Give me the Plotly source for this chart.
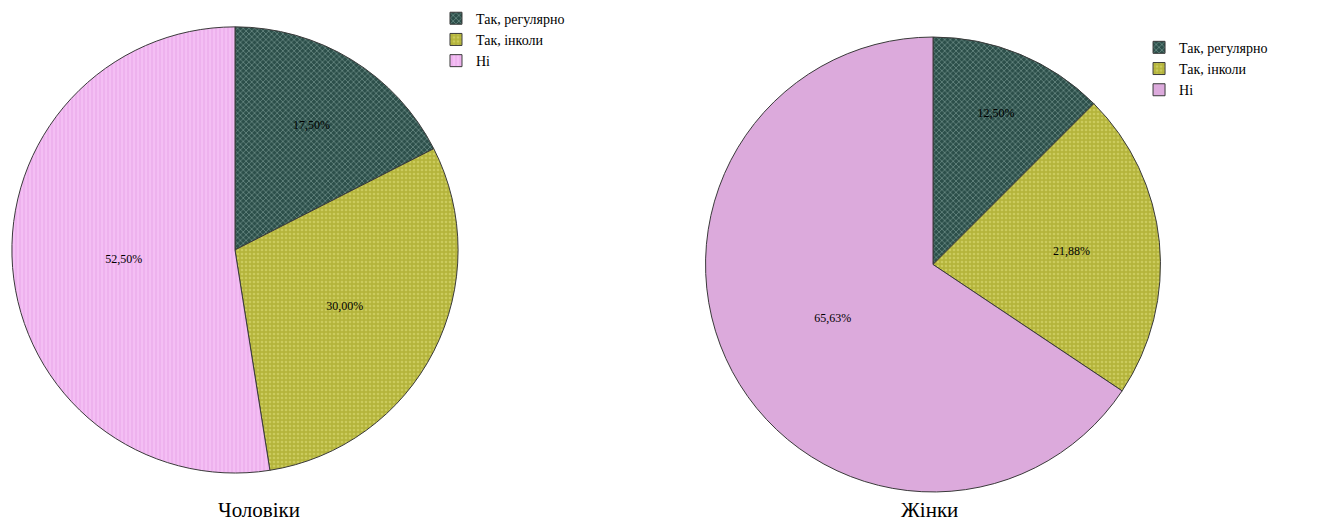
import plotly.graph_objects as go

categories = ["Так, регулярно", "Так, інколи", "Ні"]
men_values = [17.50, 30.00, 52.50]
women_values = [12.50, 21.88, 65.63]
titles = ["Чоловіки", "Жінки"]

def fmt(vals):
    return [f"{v:.2f}%".replace(".", ",") for v in vals]

FONT = "Liberation Serif, Times New Roman, serif"

fig = go.Figure()
fig.add_trace(go.Pie(
    labels=categories, values=men_values, text=fmt(men_values), textinfo="text",
    sort=False, direction="clockwise", rotation=0,
    domain=dict(x=[0.009, 0.3465], y=[0.100, 0.955]),
    marker=dict(
        colors=["#2c4f4a", "#b4b43c", "#eeb2ee"],
        line=dict(color="#3a3a3a", width=1),
        pattern=dict(shape=["x", ".", "|"], fillmode="overlay",
                     fgcolor=["#a9c9c1", "#e2e27e", "#ffd6ff"],
                     size=4, solidity=0.35),
    ),
    textposition="inside", insidetextorientation="horizontal",
    textfont=dict(family=FONT, size=12, color="black"),
    legend="legend", showlegend=True,
))
# trailing space keeps the second pie's legend entries distinct from the first
fig.add_trace(go.Pie(
    labels=[c + " " for c in categories], values=women_values,
    text=fmt(women_values), textinfo="text",
    sort=False, direction="clockwise", rotation=0,
    domain=dict(x=[0.5295, 0.882], y=[0.070, 0.930]),
    marker=dict(
        colors=["#2c4f4a", "#b4b43c", "#dcaadc"],
        line=dict(color="#3a3a3a", width=1),
        pattern=dict(shape=["x", ".", ""], fillmode="overlay",
                     fgcolor=["#a9c9c1", "#e2e27e", "#dcaadc"],
                     size=4, solidity=0.35),
    ),
    textposition="inside", insidetextorientation="horizontal",
    textfont=dict(family=FONT, size=12, color="black"),
    legend="legend2", showlegend=True,
))

fig.update_layout(
    width=1322, height=529,
    margin=dict(l=0, r=0, t=0, b=0),
    paper_bgcolor="white", plot_bgcolor="white",
    font=dict(family=FONT, color="black"),
    legend=dict(x=0.3298, y=0.995, xanchor="left", yanchor="top",
                font=dict(family=FONT, size=14, color="black"), itemwidth=30,
                tracegroupgap=0, bgcolor="rgba(0,0,0,0)"),
    legend2=dict(x=0.8616, y=0.94, xanchor="left", yanchor="top",
                 font=dict(family=FONT, size=14, color="black"), itemwidth=30,
                 tracegroupgap=0, bgcolor="rgba(0,0,0,0)"),
    annotations=[
        dict(text=titles[0], x=0.196, y=0.036, xref="paper", yref="paper",
             xanchor="center", yanchor="middle", showarrow=False,
             font=dict(family=FONT, size=21, color="black")),
        dict(text=titles[1], x=0.703, y=0.036, xref="paper", yref="paper",
             xanchor="center", yanchor="middle", showarrow=False,
             font=dict(family=FONT, size=21, color="black")),
    ],
)

fig.write_html("out.html", config={"displayModeBar": False},
               post_script="document.body.style.margin='0';")
